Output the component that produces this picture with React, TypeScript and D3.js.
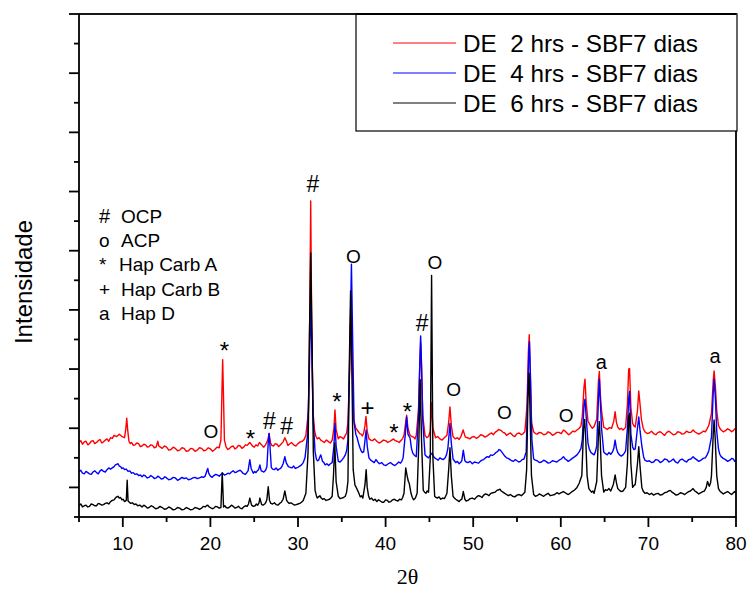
import React from "react";
import * as d3 from "d3";

const WIDTH = 749;
const HEIGHT = 590;
const MARGIN = { top: 14, right: 13, bottom: 73, left: 79 };

const xDomain: [number, number] = [5, 80];
const yDomain: [number, number] = [-50, 800];
const xMajorTicks = [10, 20, 30, 40, 50, 60, 70, 80];
const xMinorTicks = [5, 15, 25, 35, 45, 55, 65, 75];
const yMajorTicks = [0, 100, 200, 300, 400, 500, 600, 700, 800];
const yMinorTicks = [-50, 50, 150, 250, 350, 450, 550, 650, 750];

const seriesNames = ["DE  2 hrs - SBF7 dias", "DE  4 hrs - SBF7 dias", "DE  6 hrs - SBF7 dias"];
const seriesColors = ["#ff0000", "#0000ff", "#000000"];

const phaseSymbols = ["#", "o", "*", "+", "a"];
const phaseNames = ["OCP", "ACP", "Hap Carb A", "Hap Carb B", "Hap D"];

// peak labels: [symbol, 2theta, intensity at baseline]
const peakLabels: [string, number, number][] = [
  ["O", 20.07, 83], ["*", 21.59, 217], ["*", 24.58, 68], ["#", 26.73, 98], ["#", 28.71, 90],
  ["#", 31.71, 500], ["*", 34.45, 130], ["O", 36.33, 380], ["+", 37.93, 121], ["*", 40.96, 79],
  ["*", 42.5, 114], ["#", 44.16, 265], ["O", 45.64, 369], ["O", 47.77, 154], ["O", 53.57, 115],
  ["O", 60.6, 111], ["a", 64.63, 200], ["a", 77.6, 210],
];

const red2h: [number, number][] = [
  [5.0, 76], [5.2, 79], [5.4, 73], [5.6, 77], [5.8, 78], [6.0, 72], [6.2, 74], [6.4, 78], [6.6, 79], [6.8, 74],
  [7.0, 76], [7.2, 79], [7.4, 81], [7.6, 75], [7.8, 77], [8.0, 80], [8.2, 82], [8.4, 78], [8.6, 84],
  [8.8, 83], [9.0, 88], [9.3, 86], [9.6, 90], [9.9, 86], [10.2, 84], [10.35, 100], [10.45, 117], [10.55, 98], [10.7, 78],
  [10.85, 74], [11.0, 76], [11.2, 71], [11.4, 72], [11.6, 75], [11.8, 74], [12.0, 69], [12.2, 70], [12.4, 73],
  [12.6, 72], [12.8, 68], [13.0, 69], [13.2, 72], [13.4, 71], [13.6, 67], [13.8, 68], [14.0, 78],
  [14.1, 70], [14.3, 68], [14.5, 66], [14.75, 70], [15.0, 68], [15.25, 63], [15.5, 64], [15.75, 68], [16.0, 66],
  [16.25, 62], [16.5, 63], [16.75, 67], [17.0, 66], [17.25, 61], [17.5, 62], [17.75, 66], [18.0, 65],
  [18.25, 61], [18.5, 63], [18.75, 67], [19.0, 66], [19.25, 62], [19.5, 63], [19.75, 67], [20.0, 65], [20.25, 61],
  [20.5, 64], [20.75, 68], [21.0, 67], [21.2, 80], [21.3, 150], [21.4, 216],
  [21.5, 150], [21.6, 80], [21.8, 68], [22.0, 64], [22.2, 66], [22.4, 69], [22.6, 70], [22.8, 65], [23.0, 67],
  [23.2, 71], [23.4, 70], [23.6, 66], [23.8, 68], [24.0, 72], [24.2, 71],
  [24.5, 76], [24.8, 70], [25.0, 68], [25.2, 72], [25.4, 70], [25.6, 76], [25.9, 71], [26.1, 68], [26.3, 72], [26.55, 80], [26.7, 91], [26.85, 76],
  [27.0, 71], [27.2, 70], [27.4, 74], [27.6, 73], [27.8, 69], [28.0, 72], [28.3, 77], [28.5, 84], [28.7, 77], [28.85, 71], [29.0, 73],
  [29.25, 76], [29.5, 72], [29.75, 70], [30.0, 74], [30.25, 77],
  [30.5, 78], [30.7, 81], [30.9, 88], [31.2, 130], [31.35, 300], [31.45, 484], [31.55, 300], [31.7, 130], [31.9, 95],
  [32.05, 86], [32.2, 82], [32.4, 84], [32.6, 80], [32.8, 78], [33.0, 76], [33.25, 80], [33.5, 77], [33.7, 75], [33.9, 80],
  [34.1, 100], [34.22, 131], [34.35, 98], [34.6, 82], [34.8, 86],
  [35.0, 84], [35.2, 82], [35.4, 88], [35.55, 92], [35.7, 110], [35.9, 200], [36.05, 300], [36.2, 200], [36.35, 115], [36.6, 100],
  [36.75, 97], [36.9, 94], [37.05, 91], [37.2, 90], [37.35, 87], [37.5, 92], [37.65, 105], [37.76, 120], [37.9, 95], [38.1, 82],
  [38.3, 80], [38.5, 79], [38.75, 82], [39.0, 78], [39.25, 75],
  [39.5, 77], [39.75, 80], [40.0, 79], [40.25, 76], [40.5, 78], [40.7, 80], [40.9, 82], [41.1, 79], [41.3, 78], [41.55, 76], [41.8, 80],
  [41.95, 83], [42.1, 88], [42.25, 105], [42.4, 122],
  [42.55, 100], [42.8, 88], [43.0, 86], [43.2, 85], [43.35, 82], [43.5, 88], [43.75, 130], [43.9, 200], [44.0, 245], [44.1, 200],
  [44.25, 120], [44.5, 88], [44.7, 84], [44.9, 86], [45.1, 95], [45.25, 143], [45.4, 100], [45.7, 84], [45.95, 86], [46.2, 82],
  [46.45, 80], [46.7, 84],
  [47.0, 88], [47.2, 110], [47.35, 136], [47.5, 105], [47.7, 86], [47.95, 82], [48.2, 84], [48.4, 81], [48.6, 86], [48.85, 97], [49.1, 85],
  [49.35, 84], [49.6, 82], [49.85, 85], [50.1, 86], [50.35, 83], [50.6, 85], [50.85, 89], [51.1, 88], [51.35, 85], [51.6, 87],
  [51.85, 90], [52.1, 92], [52.3, 89], [52.5, 93], [52.7, 95], [52.9, 98], [53.2, 96],
  [53.4, 93], [53.6, 92], [53.8, 88], [54.0, 90], [54.25, 92], [54.5, 88], [54.75, 86], [55.0, 91], [55.25, 92], [55.5, 89],
  [55.7, 91], [55.9, 94], [56.15, 140], [56.3, 230], [56.4, 258],
  [56.5, 200], [56.65, 110], [56.9, 94], [57.1, 91], [57.3, 90], [57.55, 93], [57.8, 92], [58.05, 89], [58.3, 90], [58.55, 94],
  [58.8, 92], [59.05, 88], [59.3, 90], [59.55, 93], [59.8, 93],
  [60.05, 91], [60.3, 97], [60.5, 95], [60.7, 92], [60.9, 89], [61.1, 91], [61.35, 95], [61.6, 94], [61.85, 97], [62.1, 100],
  [62.3, 104], [62.45, 120], [62.65, 170], [62.76, 183],
  [62.9, 143], [63.1, 112], [63.25, 108], [63.4, 104], [63.6, 100], [63.8, 103], [64.1, 115], [64.3, 180], [64.4, 196], [64.5, 160],
  [64.65, 130], [64.9, 102], [65.1, 100], [65.3, 98], [65.55, 101], [65.8, 100], [66.05, 112], [66.2, 128], [66.35, 110], [66.5, 102], [66.7, 98],
  [66.9, 100], [67.1, 97], [67.25, 99], [67.4, 102], [67.6, 140], [67.75, 200], [67.85, 201], [68.0, 135], [68.2, 108], [68.35, 104], [68.5, 102],
  [68.75, 130], [68.9, 163], [69.05, 140], [69.2, 115], [69.4, 100], [69.6, 94], [69.85, 91], [70.1, 92], [70.35, 95], [70.6, 91],
  [70.85, 89], [71.1, 93], [71.35, 94], [71.6, 91], [71.85, 88], [72.1, 93], [72.35, 95], [72.6, 92], [72.85, 89], [73.1, 90],
  [73.35, 94], [73.6, 93], [73.85, 90], [74.1, 91], [74.35, 95], [74.6, 93], [74.85, 93], [75.1, 97], [75.3, 94], [75.5, 92],
  [75.75, 90], [76.0, 92], [76.25, 95], [76.5, 94], [76.7, 99], [76.9, 105], [77.2, 125], [77.4, 180], [77.5, 197], [77.65, 170], [77.8, 130],
  [78.0, 105], [78.15, 100], [78.3, 97], [78.55, 94], [78.8, 96], [79.05, 99], [79.3, 97], [79.5, 94], [79.7, 96], [79.85, 99], [80.0, 98],
];

const blue4h: [number, number][] = [
  [5.0, 26], [5.2, 29], [5.4, 24], [5.6, 23], [5.8, 27], [6.0, 25], [6.2, 23], [6.4, 22], [6.6, 26], [6.8, 28],
  [7.0, 25], [7.2, 23], [7.4, 28], [7.6, 30], [7.8, 27], [8.0, 26], [8.2, 30], [8.4, 33], [8.6, 31],
  [8.8, 33], [9.0, 35], [9.15, 38], [9.3, 39], [9.45, 40], [9.6, 36], [9.75, 35], [9.9, 32], [10.05, 33], [10.2, 30], [10.4, 31],
  [10.6, 27], [10.8, 28], [11.0, 24], [11.2, 25], [11.4, 22], [11.6, 23], [11.8, 20],
  [12.0, 21], [12.2, 18], [12.4, 21], [12.6, 19], [12.8, 16], [13.0, 17], [13.2, 20], [13.4, 18], [13.6, 15], [13.8, 16], [14.0, 19],
  [14.2, 17], [14.4, 14], [14.6, 15], [14.8, 18], [15.0, 16], [15.25, 13], [15.5, 14],
  [15.75, 17], [16.0, 16], [16.25, 12], [16.5, 14], [16.75, 17], [17.0, 15], [17.25, 16], [17.5, 13], [17.75, 14], [18.0, 16],
  [18.25, 17], [18.5, 15], [18.75, 16], [19.0, 18], [19.2, 17], [19.4, 19], [19.6, 28],
  [19.7, 32], [19.8, 24], [20.0, 19], [20.2, 17], [20.4, 20], [20.6, 22], [20.8, 21], [21.0, 19], [21.2, 22], [21.4, 24],
  [21.6, 21], [21.8, 22], [22.0, 24], [22.2, 23], [22.4, 26],
  [22.6, 28], [22.8, 25], [23.0, 26], [23.2, 28], [23.4, 29], [23.55, 27], [23.7, 24], [23.85, 23], [24.0, 22], [24.15, 25],
  [24.3, 28], [24.5, 47], [24.65, 32], [24.9, 24],
  [25.05, 27], [25.2, 25], [25.35, 28], [25.5, 30], [25.65, 38], [25.8, 28], [25.95, 27], [26.1, 26], [26.3, 29], [26.45, 35], [26.6, 75], [26.7, 91], [26.8, 70],
  [26.95, 34], [27.1, 31], [27.3, 30], [27.5, 33], [27.7, 29], [27.85, 31], [28.0, 32], [28.15, 35], [28.3, 40], [28.5, 52], [28.65, 42], [28.9, 35],
  [29.1, 34], [29.3, 33], [29.5, 36], [29.7, 32], [29.85, 33], [30.0, 34], [30.2, 36], [30.4, 38], [30.6, 42], [30.8, 50], [31.1, 90], [31.3, 200], [31.45, 314], [31.6, 220],
  [31.75, 110], [31.95, 60], [32.1, 48], [32.2, 45], [32.35, 46], [32.45, 50], [32.6, 55], [32.8, 44], [32.95, 42], [33.1, 38], [33.3, 40],
  [33.5, 37], [33.7, 40], [33.9, 42],
  [34.1, 70], [34.22, 108], [34.35, 70], [34.6, 44], [34.8, 43], [35.0, 46], [35.2, 50], [35.4, 55], [35.55, 62], [35.7, 80], [35.95, 250],
  [36.1, 377], [36.25, 240], [36.4, 110], [36.6, 90], [36.75, 84], [36.9, 75], [37.05, 68], [37.2, 62], [37.35, 59], [37.5, 60], [37.65, 80],
  [37.78, 97], [37.9, 70], [38.1, 50], [38.3, 46], [38.5, 44], [38.7, 42], [38.9, 47], [39.1, 43], [39.3, 40], [39.55, 42],
  [39.8, 38], [40.05, 37], [40.3, 40], [40.55, 42], [40.8, 39],
  [41.05, 37], [41.3, 40], [41.5, 43], [41.7, 41], [41.85, 44], [42.0, 50], [42.25, 90], [42.4, 119], [42.55, 90], [42.8, 83], [42.95, 66],
  [43.1, 58], [43.3, 54], [43.5, 52],
  [43.75, 120], [43.9, 210], [44.0, 256], [44.1, 210], [44.25, 110], [44.5, 55], [44.7, 52], [44.9, 50], [45.1, 54], [45.3, 58],
  [45.45, 53], [45.6, 50], [45.8, 48], [46.0, 46], [46.2, 50], [46.4, 48], [46.6, 47], [46.8, 50], [46.95, 55],
  [47.1, 65], [47.25, 90], [47.35, 108], [47.5, 75], [47.7, 48], [47.85, 45],
  [48.0, 42], [48.2, 44], [48.4, 40], [48.55, 42], [48.7, 45], [48.87, 63], [49.05, 45], [49.2, 43], [49.4, 42], [49.65, 44],
  [49.9, 40], [50.15, 43], [50.4, 42], [50.6, 41], [50.8, 44],
  [51.0, 46], [51.2, 47], [51.4, 50], [51.6, 52], [51.8, 51], [52.0, 55], [52.2, 54], [52.4, 56], [52.6, 59], [52.8, 61], [52.95, 64],
  [53.1, 63], [53.25, 60], [53.4, 57], [53.6, 53], [53.8, 50], [54.0, 49], [54.2, 47],
  [54.4, 45], [54.6, 44], [54.8, 47], [55.0, 45], [55.2, 43], [55.4, 44], [55.6, 47], [55.8, 48], [56.05, 60], [56.2, 150], [56.35, 230], [56.42, 246],
  [56.55, 180], [56.7, 80], [56.9, 48], [57.1, 46], [57.3, 45], [57.55, 42], [57.8, 43], [58.05, 46], [58.3, 44], [58.55, 41],
  [58.8, 42], [59.05, 45], [59.3, 44], [59.55, 43], [59.8, 46],
  [60.05, 48], [60.3, 52], [60.5, 48], [60.7, 46], [60.85, 44], [61.05, 46], [61.3, 49], [61.6, 52], [61.85, 55], [62.1, 60], [62.3, 66],
  [62.45, 80], [62.65, 140], [62.76, 149],
  [62.9, 119], [63.1, 75], [63.25, 65], [63.4, 60], [63.6, 57], [63.8, 55], [63.95, 60], [64.1, 70], [64.3, 150], [64.4, 183], [64.5, 150],
  [64.65, 100], [64.9, 60], [65.1, 57], [65.3, 55], [65.5, 59], [65.7, 56], [65.9, 60], [66.05, 66], [66.2, 80], [66.35, 66], [66.5, 59],
  [66.7, 55], [66.9, 53], [67.1, 55],
  [67.25, 58], [67.4, 62], [67.6, 100], [67.75, 150], [67.85, 162], [68.0, 90], [68.2, 68], [68.35, 64], [68.5, 65], [68.75, 100],
  [68.9, 119], [69.05, 95], [69.25, 70], [69.45, 52], [69.6, 46], [69.85, 44], [70.1, 45], [70.35, 42], [70.6, 43], [70.85, 47],
  [71.1, 46], [71.35, 42], [71.6, 44], [71.85, 48], [72.1, 47],
  [72.35, 43], [72.6, 45], [72.85, 48], [73.1, 43], [73.35, 41], [73.6, 46], [73.85, 48], [74.1, 45], [74.35, 43], [74.6, 47],
  [74.85, 48], [75.1, 52], [75.3, 49], [75.5, 47], [75.75, 44], [76.0, 46], [76.25, 49], [76.5, 50],
  [76.7, 55], [76.9, 62], [77.2, 85], [77.4, 160], [77.5, 183], [77.65, 150], [77.8, 95], [78.0, 65], [78.15, 56], [78.3, 52],
  [78.55, 49], [78.8, 47], [79.05, 44], [79.3, 46], [79.5, 49], [79.7, 48], [79.85, 44], [80.0, 45],
];

const black6h: [number, number][] = [
  [5.0, -31], [5.2, -28], [5.4, -33], [5.6, -31], [5.8, -30], [6.0, -33], [6.2, -32], [6.4, -28], [6.6, -29], [6.8, -31],
  [7.0, -31], [7.2, -27], [7.4, -28], [7.6, -30], [7.8, -29], [8.0, -27], [8.2, -26],
  [8.4, -28], [8.6, -24], [8.8, -22], [9.0, -21], [9.15, -18], [9.3, -16], [9.45, -15], [9.6, -18], [9.75, -17], [9.9, -21],
  [10.05, -20], [10.2, -24], [10.4, -22], [10.5, 12], [10.6, -23],
  [10.75, -25], [10.9, -27], [11.1, -26], [11.3, -29], [11.5, -28], [11.7, -31], [11.95, -30], [12.2, -33], [12.4, -30],
  [12.6, -32], [12.8, -35], [13.0, -34], [13.25, -31], [13.5, -33], [13.75, -36], [14.0, -35],
  [14.25, -32], [14.5, -34], [14.75, -37], [15.0, -36], [15.25, -33], [15.5, -35], [15.75, -38], [16.0, -37], [16.25, -34],
  [16.5, -35], [16.75, -38], [17.0, -37], [17.25, -34], [17.5, -36], [17.75, -38], [18.0, -37],
  [18.25, -34], [18.5, -35], [18.75, -37], [19.0, -35], [19.2, -32], [19.4, -33], [19.55, -31], [19.7, -30], [19.85, -33],
  [20.0, -34], [20.2, -36], [20.4, -35], [20.6, -32], [20.8, -33], [21.0, -35], [21.2, -34],
  [21.35, 25], [21.5, -33], [21.65, -31], [21.8, -34], [22.0, -35], [22.2, -33], [22.4, -30], [22.6, -32], [22.8, -35], [23.0, -34],
  [23.2, -32], [23.4, -35], [23.6, -36], [23.8, -33],
  [24.0, -31], [24.2, -32], [24.35, -28], [24.5, -18], [24.7, -30], [24.9, -32], [25.1, -31], [25.25, -28], [25.4, -30], [25.55, -26], [25.65, -18],
  [25.85, -29], [26.0, -30], [26.2, -28], [26.35, -25],
  [26.45, -20], [26.6, 1], [26.75, -22], [26.9, -27], [27.1, -28], [27.3, -26], [27.5, -29], [27.7, -30], [27.9, -27], [28.1, -25],
  [28.3, -20], [28.5, -6], [28.7, -22], [28.85, -25], [29.0, -27], [29.2, -26], [29.4, -28], [29.6, -30], [29.8, -29],
  [30.0, -28], [30.2, -27], [30.4, -25], [30.6, -22], [30.9, -10], [31.15, 60],
  [31.3, 250], [31.45, 396], [31.6, 250], [31.75, 60], [31.95, -5], [32.1, -14], [32.2, -18], [32.35, -16], [32.5, -14], [32.65, -18], [32.8, -20],
  [33.0, -19], [33.2, -22], [33.4, -21], [33.6, -20], [33.75, -18], [33.9, -15], [34.05, 20], [34.2, 75], [34.35, 10], [34.6, -15], [34.8, -19], [35.0, -18],
  [35.2, -17], [35.4, -15], [35.55, -8], [35.7, 10], [35.85, 200], [36.0, 332], [36.15, 200], [36.3, 30], [36.5, 4], [36.65, 0], [36.8, -5],
  [36.95, -10], [37.1, -16], [37.25, -14], [37.4, -18], [37.65, 5], [37.78, 30], [37.9, 0], [38.05, -14], [38.2, -20], [38.4, -18], [38.6, -22],
  [38.8, -20], [39.0, -24], [39.2, -21], [39.4, -23], [39.6, -25], [39.8, -25], [40.0, -21], [40.2, -22], [40.4, -25], [40.6, -24],
  [40.8, -21], [41.0, -20], [41.2, -22], [41.4, -23], [41.6, -20], [41.8, -21], [41.95, -17], [42.1, -10],
  [42.3, 33], [42.45, 20], [42.6, 10], [42.7, 7], [42.9, -10], [43.05, -17], [43.2, -21], [43.4, -18], [43.6, -10], [43.8, 80], [43.95, 182],
  [44.1, 80], [44.3, -5], [44.45, -8], [44.6, -10], [44.75, -6], [44.9, -8], [45.1, 50], [45.25, 358], [45.4, 50], [45.6, -15],
  [45.75, -17], [45.9, -18], [46.1, -16], [46.3, -20], [46.5, -18], [46.7, -19], [46.85, -15], [47.0, -10], [47.2, 30], [47.35, 67], [47.5, 20], [47.7, -15],
  [47.85, -18], [48.0, -20], [48.2, -22], [48.4, -24], [48.55, -21], [48.7, -20], [48.87, -7], [49.05, -20], [49.2, -23], [49.4, -22], [49.65, -19],
  [49.9, -18], [50.15, -20], [50.4, -16], [50.6, -14], [50.8, -15], [51.0, -17], [51.2, -13], [51.4, -11], [51.6, -12], [51.8, -14],
  [52.0, -10], [52.25, -9], [52.5, -8], [52.7, -5], [52.9, -4], [53.05, -3], [53.2, -6], [53.4, -8], [53.6, -10], [53.8, -12],
  [54.0, -14], [54.25, -12], [54.5, -15], [54.75, -16], [55.0, -13], [55.25, -12], [55.5, -14], [55.7, -11], [55.9, -8], [56.1, 30],
  [56.25, 150], [56.38, 193], [56.5, 120], [56.65, 20], [56.9, -12], [57.1, -15], [57.3, -14], [57.55, -11], [57.8, -13], [58.05, -15],
  [58.3, -12], [58.55, -10], [58.8, -14], [59.05, -13], [59.3, -12], [59.55, -9],
  [59.8, -11], [60.05, -9], [60.3, -7], [60.5, -9], [60.7, -11], [60.85, -12], [61.05, -10], [61.3, -7], [61.6, -4], [61.85, 0], [62.1, 7], [62.4, 20], [62.6, 100],
  [62.72, 115], [62.85, 80], [63.0, 20], [63.2, -2], [63.35, -5], [63.5, -8], [63.65, -6], [63.8, -10], [64.1, 10], [64.3, 90],
  [64.4, 111], [64.5, 80], [64.65, 20], [64.9, -8], [65.1, -4], [65.3, -5], [65.5, -2], [65.7, -6], [66.0, 5], [66.2, 21], [66.35, 8],
  [66.5, -2], [66.7, -5], [66.9, -7], [67.1, -6], [67.25, -3], [67.4, 0], [67.6, 40], [67.75, 120], [67.85, 125], [68.0, 40], [68.2, 0], [68.35, 3], [68.5, 5],
  [68.75, 40], [68.9, 69], [69.05, 35], [69.25, 0], [69.4, -6], [69.6, -10], [69.85, -9], [70.1, -12], [70.35, -10], [70.6, -13], [70.85, -11], [71.1, -10],
  [71.35, -13], [71.6, -12], [71.85, -9], [72.1, -8], [72.3, -6], [72.5, -5], [72.7, -8], [72.9, -10], [73.15, -13], [73.4, -12], [73.65, -9], [73.9, -10],
  [74.15, -12], [74.4, -9], [74.6, -7], [74.8, -6], [74.95, -4], [75.1, -2],
  [75.3, -6], [75.5, -8], [75.75, -11], [76.0, -9], [76.2, -7], [76.4, -6], [76.6, 0], [76.75, 10], [76.95, 2], [77.1, 8], [77.2, 20], [77.4, 90], [77.5, 114], [77.62, 85],
  [77.8, 20], [78.0, -2], [78.15, -6], [78.3, -8], [78.55, -11], [78.8, -9], [79.05, -7], [79.3, -10], [79.5, -12], [79.7, -9], [79.85, -7], [80.0, -10],
];

const SANS = "'Liberation Sans', Arial, Helvetica, sans-serif";
const SERIF = "'Liberation Serif', 'Times New Roman', serif";

export default function App() {
  const x = d3.scaleLinear().domain(xDomain).range([MARGIN.left, WIDTH - MARGIN.right]);
  const y = d3.scaleLinear().domain(yDomain).range([HEIGHT - MARGIN.bottom, MARGIN.top]);
  const line = d3
    .line<[number, number]>()
    .x((d) => x(d[0]))
    .y((d) => y(d[1]));

  const series = [red2h, blue4h, black6h];
  const x0 = x(xDomain[0]);
  const x1 = x(xDomain[1]);
  const y0 = y(yDomain[0]);
  const y1 = y(yDomain[1]);

  const legendX = 356;
  const legendRowY = [43, 73, 103];

  const labelSize = (s: string) => (s === "*" || s === "+" ? 24 : s === "#" ? 23 : s === "a" ? 20 : 19);

  return (
    <svg
      width={WIDTH}
      height={HEIGHT}
      style={{ position: "absolute", left: 0, top: 0, background: "#fff" }}
      fontFamily={SANS}
    >
      <rect x={0} y={0} width={WIDTH} height={HEIGHT} fill="#fff" />
      <defs>
        <clipPath id="plotclip">
          <rect x={x0} y={y1} width={x1 - x0} height={y0 - y1} />
        </clipPath>
      </defs>
      <g clipPath="url(#plotclip)">
        {series.map((s, i) => (
          <path key={i} d={line(s) || ""} fill="none" stroke={seriesColors[i]} strokeWidth={1.4} strokeLinejoin="round" />
        ))}
      </g>

      {/* frame */}
      <rect x={x0} y={y1} width={x1 - x0} height={y0 - y1} fill="none" stroke="#000" strokeWidth={1.8} />

      {/* x ticks */}
      {xMajorTicks.map((t) => (
        <g key={"xM" + t}>
          <line x1={x(t)} x2={x(t)} y1={y0} y2={y0 + 10} stroke="#000" strokeWidth={1.8} />
          <text x={x(t)} y={550} textAnchor="middle" fontSize={19}>
            {t}
          </text>
        </g>
      ))}
      {xMinorTicks.map((t) => (
        <line key={"xm" + t} x1={x(t)} x2={x(t)} y1={y0} y2={y0 + 5} stroke="#000" strokeWidth={1.8} />
      ))}
      {/* y ticks */}
      {yMajorTicks.map((t) => (
        <line key={"yM" + t} x1={x0 - 10} x2={x0} y1={y(t)} y2={y(t)} stroke="#000" strokeWidth={1.8} />
      ))}
      {yMinorTicks.map((t) => (
        <line key={"ym" + t} x1={x0 - 5} x2={x0} y1={y(t)} y2={y(t)} stroke="#000" strokeWidth={1.8} />
      ))}

      {/* axis titles */}
      <text x={(x0 + x1) / 2} y={584} textAnchor="middle" fontFamily={SERIF} fontSize={22}>
        2θ
      </text>
      <text transform="translate(32,282) rotate(-90)" textAnchor="middle" fontSize={24}>
        Intensidade
      </text>

      {/* peak labels */}
      {peakLabels.map(([s, a, v], i) => (
        <text key={"pl" + i} x={x(a)} y={y(v)} textAnchor="middle" fontSize={labelSize(s)}>
          {s}
        </text>
      ))}

      {/* phase key */}
      {phaseSymbols.map((s, i) => (
        <g key={"ph" + i}>
          <text x={99} y={223 + i * 24.2} fontSize={s === "#" ? 20 : 19}>
            {s}
          </text>
          <text x={s === "*" ? 119 : 121} y={223 + i * 24.2} fontSize={19}>
            {phaseNames[i]}
          </text>
        </g>
      ))}

      {/* legend */}
      <rect x={legendX} y={y1} width={x1 - legendX + 1} height={117} fill="#fff" stroke="#000" strokeWidth={1.2} />
      <line x1={legendX} x2={x1} y1={y1} y2={y1} stroke="#000" strokeWidth={1.8} />
      {seriesNames.map((n, i) => (
        <g key={"lg" + i}>
          <line x1={393} x2={456} y1={legendRowY[i]} y2={legendRowY[i]} stroke={seriesColors[i]} strokeWidth={1} />
          <text x={463} y={legendRowY[i] + 8.5} fontSize={24.3} style={{ whiteSpace: "pre" }}>
            {n}
          </text>
        </g>
      ))}
    </svg>
  );
}
